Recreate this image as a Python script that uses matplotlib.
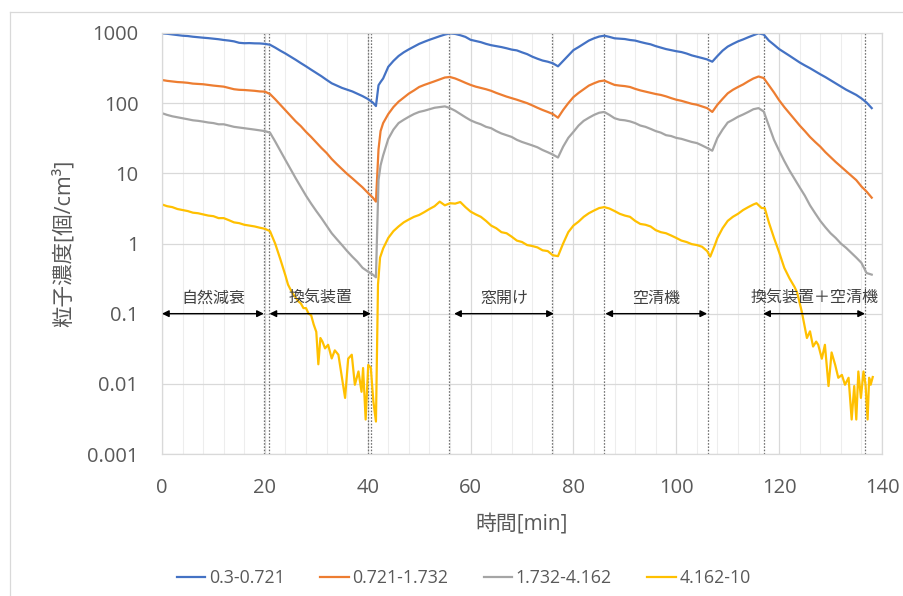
import numpy as np
import matplotlib
matplotlib.use("Agg")
import matplotlib.pyplot as plt
from matplotlib.ticker import MultipleLocator, NullLocator, FixedLocator
from matplotlib.lines import Line2D

plt.rcParams['font.family'] = ['Open Sans', 'Noto Sans CJK JP', 'DejaVu Sans']

# time axis [min] shared by the three larger size bins
t_main = list(range(42)) + [41.6, 42.1, 42.5] + list(range(43, 139))

conc_03 = [990, 975, 955, 935, 915, 905, 885, 870, 857, 845, 830, 815, 795, 780, 760, 725, 715, 718, 712, 710, 700,
           680, 620, 560, 510, 460, 415, 372, 335, 300, 270, 242, 215, 192, 178, 165, 156, 147, 136, 126, 115, 102,
           91, 180, 200,
           225, 330, 400, 470, 530, 585, 640, 700, 750, 800, 850, 900, 950, 985,
           970, 930, 880, 800, 770, 740, 700, 670, 650, 630, 606, 580, 565, 530, 500, 460, 430, 405, 390, 370, 335,
           400, 480, 570, 630, 700, 780, 840, 890, 915, 880, 840, 830, 820, 795, 780, 745, 715, 690, 650, 620,
           590, 570, 550, 535, 510, 480, 460, 440, 420, 390,
           470, 560, 640, 700, 760, 810, 870, 930, 990, 950, 780, 680, 590, 530, 475, 425, 380, 345, 315, 285,
           258, 235, 212, 192, 172, 156, 143, 131, 117, 102, 85]

conc_07 = [214, 208, 204, 200, 198, 195, 190, 188, 186, 182, 178, 175, 172, 165, 158, 155, 154, 152, 150, 147, 146,
           135, 114, 95, 79, 66, 55, 47, 39, 33, 27.5, 23, 19.5, 16, 13.5, 11.5, 9.8, 8.5, 7.3, 6.3, 5.3, 4.5,
           3.95, 22, 40,
           52, 70, 88, 105, 120, 137, 152, 170, 182, 193, 205, 218, 232, 236,
           225, 210, 195, 182, 172, 165, 158, 150, 140, 132, 124, 118, 112, 106, 100, 93, 86, 80, 75, 70, 62,
           80, 100, 122, 140, 158, 178, 192, 205, 210, 195, 182, 178, 175, 170, 160, 152, 146, 140, 135, 131,
           125, 118, 112, 108, 103, 98, 95, 90, 85, 75,
           95, 115, 138, 155, 170, 185, 205, 225, 240, 228, 180, 142, 110, 88, 72, 59, 48, 40, 33, 28,
           24, 20, 17, 14.5, 12.5, 10.8, 9.3, 8, 6.5, 5.5, 4.5]

conc_17 = [72, 68, 65, 63, 61, 59, 57, 56, 54.6, 53, 52, 50, 50, 48, 46, 45, 44, 43, 42, 41, 40,
           38, 28.5, 21, 15.5, 11.5, 8.5, 6.4, 4.8, 3.7, 2.9, 2.3, 1.8, 1.4, 1.15, 0.95, 0.78, 0.65, 0.55, 0.45,
           0.4, 0.36,
           0.33, 8, 13,
           18, 31, 42, 52, 58, 64, 70, 75, 78, 82, 86, 88, 90, 85,
           78, 70, 63, 57, 53, 50, 46, 44, 40, 37, 35, 33, 30, 28, 26.5, 25, 23.5, 21.5, 20, 18.5, 16.8,
           24, 32, 39, 48, 56, 62, 68, 73, 75, 68, 61, 58, 57, 55, 52, 48, 46, 43, 40, 38,
           35, 34, 32, 31, 29.5, 28, 27, 25, 23, 21,
           32, 42, 53, 58, 64, 69, 75, 82, 85, 76, 48, 30, 21, 15, 11, 8.3, 6.3, 4.8, 3.5, 2.7,
           2.1, 1.7, 1.4, 1.2, 1.0, 0.87, 0.74, 0.63, 0.53, 0.38, 0.36]

# the largest bin is noisy near the detection limit, so it has its own time points
t_41 = [0, 1, 2, 3, 4, 5, 6, 7, 8, 9, 10, 11, 12, 13, 14, 15, 16, 17, 18, 19, 20, 21, 22, 23, 24,
        24.5, 25, 25.5, 26, 26.5, 27, 27.5, 28, 28.5, 29, 29.5, 30, 30.4, 30.8, 31.2, 31.7, 32.3, 33.0,
        33.6, 34.3, 34.9, 35.6, 36.2, 36.9, 37.5, 38.2, 38.8, 39.1, 39.6, 40.1, 40.6, 41.1, 41.6, 42.0,
        42.4, 43, 44, 45, 46, 47, 48, 49, 50, 51, 52, 53, 54, 55, 56, 57, 58, 59, 60, 61, 62, 63, 64,
        65, 66, 67, 68, 69, 70, 71, 72, 73, 74, 75, 76, 77, 78, 79, 80, 81, 82, 83, 84, 85, 86, 87, 88,
        89, 90, 91, 92, 93, 94, 95, 96, 97, 98, 99, 100, 101, 102, 103, 104, 105, 106, 106.6, 107.5,
        108, 109, 110, 111, 112, 113, 114, 115, 115.6, 116.6, 117.2, 118, 119, 120, 121, 122, 123,
        123.5, 124.4, 125.4, 126, 126.6, 127.2, 127.6, 128.3, 128.9, 129.6, 130.2, 130.9, 131.5, 132.2,
        132.8, 133.5, 134.1, 134.6, 135, 135.4, 135.9, 136.4, 136.8, 137.2, 137.5, 137.8, 138.2]
conc_41 = [3.6, 3.4, 3.3, 3.1, 3.0, 2.9, 2.75, 2.7, 2.6, 2.5, 2.45, 2.3, 2.3, 2.15, 2.0, 1.95, 1.85, 1.8,
           1.75, 1.68, 1.62, 1.5, 1.0, 0.6, 0.35,
           0.26, 0.22, 0.19, 0.17, 0.15, 0.14, 0.12, 0.12, 0.10, 0.095, 0.07, 0.055, 0.019, 0.045, 0.04,
           0.032, 0.036, 0.023, 0.030, 0.026, 0.0134, 0.0063, 0.0228, 0.026, 0.0097, 0.015, 0.0077, 0.0168,
           0.0031, 0.0186, 0.017, 0.0056, 0.0029, 0.26,
           0.63, 0.85, 1.2, 1.5, 1.75, 2.0, 2.2, 2.4, 2.55, 2.8, 3.1, 3.4, 3.95, 3.5, 3.75, 3.7, 3.9, 3.3,
           2.85, 2.6, 2.4, 2.1, 1.8, 1.65, 1.45, 1.4, 1.25, 1.1, 1.05, 0.95, 0.92, 0.88, 0.8, 0.78, 0.68,
           0.66, 1.0, 1.45, 1.8, 2.05, 2.4, 2.7, 2.95, 3.2, 3.3, 3.15, 2.9, 2.65, 2.5, 2.4, 2.1, 1.9,
           1.85, 1.75, 1.55, 1.45, 1.4, 1.3, 1.2, 1.1, 1.05, 0.98, 0.95, 0.9, 0.78, 0.65, 0.95,
           1.2, 1.65, 2.1, 2.4, 2.65, 3.0, 3.3, 3.6, 3.75, 3.2, 3.2, 2.0, 1.2, 0.75, 0.45, 0.32, 0.24,
           0.2, 0.107, 0.045, 0.056, 0.034, 0.04, 0.036, 0.0228, 0.036, 0.0093, 0.028, 0.0186, 0.0122,
           0.0134, 0.0097, 0.0122, 0.0031, 0.0093, 0.0031, 0.015, 0.0063, 0.015, 0.0097, 0.0031, 0.0122,
           0.0097, 0.0125]

series_labels = ['0.3-0.721', '0.721-1.732', '1.732-4.162', '4.162-10']
series_colors = ['#4472C4', '#ED7D31', '#A5A5A5', '#FFC000']

# switching times of the devices (dotted markers)
phase_marks = [19.9, 20.75, 40.0, 40.6, 55.9, 75.9, 86.0, 106.1, 117.0, 136.7]
# (start, end, label) of each test condition
phases = [(0, 19.8, '自然減衰'),
          (20.9, 40.6, '換気装置'),
          (56.8, 76.2, '窓開け'),
          (86.2, 106.0, '空清機'),
          (116.9, 136.7, '換気装置＋空清機')]

txt = '#595959'
fig = plt.figure(figsize=(9.04, 5.96), dpi=100)
ax = fig.add_axes([162 / 904, 1 - 454 / 596, 720 / 904, 421 / 596])

series = [(t_main, conc_03), (t_main, conc_07), (t_main, conc_17), (t_41, conc_41)]
handles = []
for (tt, cc), lab, col in zip(series, series_labels, series_colors):
    h, = ax.plot(tt, cc, color=col, lw=1.6, label=lab)
    handles.append(h)

for xm in phase_marks:
    ax.axvline(xm, color='#707070', lw=0.9, ls=(0, (1.3, 1.3)), zorder=1)

for x0, x1, lab in phases:
    ax.annotate('', xy=(x1, 0.1), xytext=(x0, 0.1),
                arrowprops=dict(arrowstyle='<|-|>', color='black', lw=1.0,
                                mutation_scale=10, shrinkA=0, shrinkB=0))
    ax.text((x0 + x1) / 2, 0.125, lab, ha='center', va='bottom', fontsize=11.5, color='#404040')

ax.set_yscale('log')
ax.set_ylim(0.001, 1000)
ax.set_xlim(0, 140)
yt = [0.001, 0.01, 0.1, 1, 10, 100, 1000]
ax.yaxis.set_major_locator(FixedLocator(yt))
ax.set_yticklabels(['0.001', '0.01', '0.1', '1', '10', '100', '1000'])
ax.yaxis.set_minor_locator(NullLocator())
ax.xaxis.set_major_locator(MultipleLocator(20))
ax.xaxis.set_minor_locator(MultipleLocator(4))
ax.grid(which='major', color='#D9D9D9', lw=0.9, zorder=0)
ax.grid(which='minor', axis='x', color='#EDEDED', lw=0.8, zorder=0)
ax.set_axisbelow(True)
ax.tick_params(which='both', length=0, labelsize=14.5, labelcolor=txt)
ax.tick_params(axis='y', pad=17)
ax.tick_params(axis='x', pad=17)
for s in ax.spines.values():
    s.set_color('#D9D9D9')
    s.set_linewidth(0.9)

ax.set_xlabel('時間[min]', fontsize=15, color=txt, labelpad=12)
ax.set_ylabel('粒子濃度[個/cm³]', fontsize=15.5, color=txt, labelpad=9)

leg = fig.legend(handles, series_labels, loc='center', bbox_to_anchor=(0.513, 1 - 578 / 596), ncol=4,
                 frameon=False, fontsize=12.8, handlelength=1.6, handletextpad=0.2, columnspacing=2.0)
for tx in leg.get_texts():
    tx.set_color(txt)

# chart area outline
fig.add_artist(Line2D([10 / 904, 10 / 904], [0, 1 - 12 / 596], color='#D9D9D9', lw=0.9))
fig.add_artist(Line2D([10 / 904, 1], [1 - 12 / 596, 1 - 12 / 596], color='#D9D9D9', lw=0.9))

fig.savefig('out.png', dpi=100)
